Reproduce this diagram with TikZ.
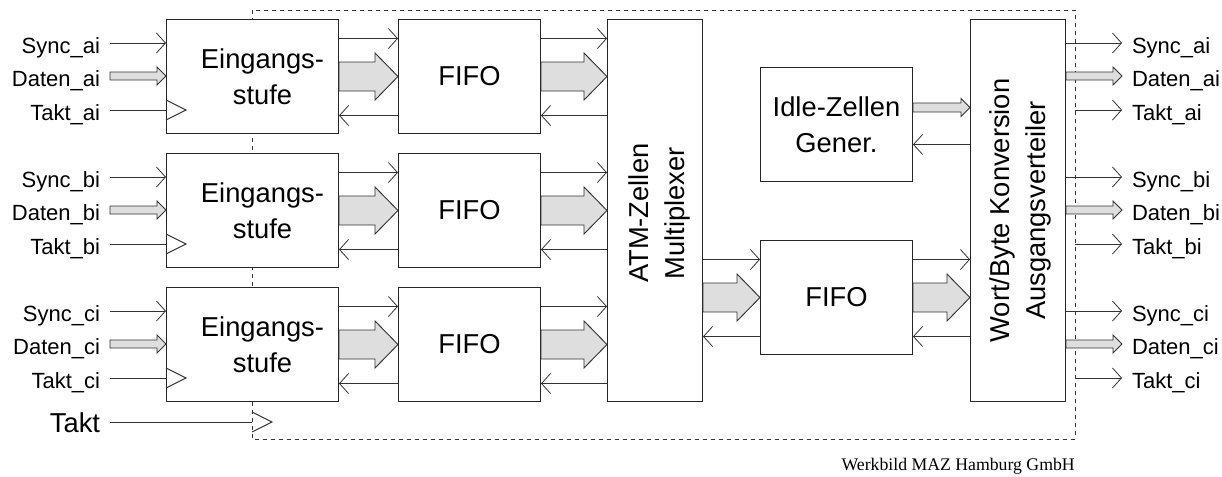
\documentclass[tikz,border=0pt]{standalone}
\usepackage{fontspec}
\setmainfont{Liberation Sans}
\newfontfamily\werkfont{Liberation Serif}
\usetikzlibrary{arrows.meta,calc}

\tikzset{
  txt/.style={font=\fontsize{20.5}{27}\selectfont, align=center},
  blk/.style={txt, draw=black!85, fill=white, line width=0.75pt, inner sep=0pt, anchor=north west},
  eblk/.style={blk, minimum width=129pt, minimum height=85.5pt,
    label={[txt, xshift=7.5pt]center:Eingangs-\\stufe}},
  fblk/.style={blk, minimum width=106.5pt, minimum height=85.5pt},
  tall/.style={blk, minimum width=71.25pt, minimum height=286.5pt},
  lbl/.style={font=\fontsize{16.5}{18}\selectfont, inner sep=0pt, outer xsep=7.5pt,
    text height=15.75pt, text depth=0pt},
  lblin/.style={lbl, anchor=east},
  lblout/.style={lbl, anchor=west},
  line/.style={draw=black!80, line width=0.7pt},
  ctl/.style={line, -{Straight Barb[length=6.75pt,width=15pt,line width=0.6pt]}},
  fat/.style={line, fill=black!13, line join=miter},
  frame/.style={draw=black!80, line width=0.6pt, dash pattern=on 3pt off 3pt}
}

% grey data arrow: tail, tip, shaft half width, head half width, head length
\newcommand{\datarrow}[5]{%
  \draw[fat] ($(#1)+(0,-#3)$) -- ($(#2)+(-#5,-#3)$) -- ($(#2)+(-#5,-#4)$) -- (#2)
    -- ($(#2)+(-#5,#4)$) -- ($(#2)+(-#5,#3)$) -- ($(#1)+(0,#3)$) -- cycle;}
% clock input
\newcommand{\clk}[1]{\draw[line] ($(#1)+(0,-10)$) -- ($(#1)+(20,0)$) -- ($(#1)+(0,10)$);}
% sync, data and return line between two blocks
\newcommand{\bus}[2]{%
  \draw[ctl] ($(#1)+(0,-38)$) -- ($(#2)+(0,-38)$);
  \datarrow{#1}{#2}{14.5}{23.5}{23}
  \draw[ctl] ($(#2)+(0,39)$) -- ($(#1)+(0,39)$);}

\begin{document}
\begin{tikzpicture}[x=0.75pt, y=-0.75pt]
\useasboundingbox (0,0) rectangle (1222,476);

\coordinate (frnw) at (252,10);
\coordinate (frse) at (1075,439);
\draw[frame] (frnw) rectangle (frse);

% blocks
\node[eblk] (ein1) at (166,19) {};
\node[eblk] (ein2) at (166,153) {};
\node[eblk] (ein3) at (166,287) {};
\node[fblk] (fifo1) at (398,19) {FIFO};
\node[fblk] (fifo2) at (398,153) {FIFO};
\node[fblk] (fifo3) at (398,287) {FIFO};
\node[tall, label={[txt, rotate=90, xshift=-2pt, yshift=-3pt]center:ATM-Zellen\\Multiplexer}] (mux) at (607,19) {};
\node[blk, minimum width=114pt, minimum height=85.5pt] (idle) at (760,67) {Idle-Zellen\\Gener.};
\node[blk, minimum width=114pt, minimum height=85.5pt] (fout) at (760,240) {FIFO};
\node[tall, label={[txt, rotate=90, yshift=-2pt]center:Wort/Byte Konversion\\Ausgangsverteiler}] (wort) at (970,19) {};

% inputs
\node[lblin] (sa) at (110,43) {Sync\_ai};
\node[lblin] (da) at (110,76) {Daten\_ai};
\node[lblin] (ta) at (110,110) {Takt\_ai};
\node[lblin] (sb) at (110,177) {Sync\_bi};
\node[lblin] (db) at (110,210) {Daten\_bi};
\node[lblin] (tb) at (110,244) {Takt\_bi};
\node[lblin] (sc) at (110,311) {Sync\_ci};
\node[lblin] (dc) at (110,344) {Daten\_ci};
\node[lblin] (tc) at (110,378) {Takt\_ci};
\node[lblin, font=\fontsize{20.5}{24}\selectfont, text height=15pt] (tk) at (110,422) {Takt};

\draw[ctl] (sa.east) -- (sa.east -| ein1.west);
\datarrow{da.east}{da.east -| ein1.west}{4}{9}{9}
\draw[line] (ta.east) -- (ta.east -| ein1.west); \clk{ta.east -| ein1.west}
\draw[ctl] (sb.east) -- (sb.east -| ein2.west);
\datarrow{db.east}{db.east -| ein2.west}{4}{9}{9}
\draw[line] (tb.east) -- (tb.east -| ein2.west); \clk{tb.east -| ein2.west}
\draw[ctl] (sc.east) -- (sc.east -| ein3.west);
\datarrow{dc.east}{dc.east -| ein3.west}{4}{9}{9}
\draw[line] (tc.east) -- (tc.east -| ein3.west); \clk{tc.east -| ein3.west}
\draw[line] (tk.east) -- (tk.east -| frnw); \clk{tk.east -| frnw}

% block to block
\bus{ein1.east}{fifo1.west}
\bus{ein2.east}{fifo2.west}
\bus{ein3.east}{fifo3.west}
\bus{fifo1.east}{fifo1.east -| mux.west}
\bus{fifo2.east}{fifo2.east -| mux.west}
\bus{fifo3.east}{fifo3.east -| mux.west}
\bus{mux.east |- fout.west}{fout.west}
\bus{fout.east}{fout.east -| wort.west}

\coordinate (ie) at ($(idle.east)+(0,-17)$);
\coordinate (ir) at ($(idle.east)+(0,20)$);
\datarrow{ie}{ie -| wort.west}{4.5}{9}{9}
\draw[ctl] (ir -| wort.west) -- (ir);

% outputs
\node[lblout] (osa) at (1122,43) {Sync\_ai};
\node[lblout] (oda) at (1122,76) {Daten\_ai};
\node[lblout] (ota) at (1122,110) {Takt\_ai};
\node[lblout] (osb) at (1122,177) {Sync\_bi};
\node[lblout] (odb) at (1122,210) {Daten\_bi};
\node[lblout] (otb) at (1122,244) {Takt\_bi};
\node[lblout] (osc) at (1122,311) {Sync\_ci};
\node[lblout] (odc) at (1122,344) {Daten\_ci};
\node[lblout] (otc) at (1122,378) {Takt\_ci};

\draw[ctl] (osa.west -| wort.east) -- (osa.west);
\datarrow{oda.west -| wort.east}{oda.west}{4}{9}{9}
\draw[ctl] (ota.west -| frse) -- (ota.west);
\draw[ctl] (osb.west -| wort.east) -- (osb.west);
\datarrow{odb.west -| wort.east}{odb.west}{4}{9}{9}
\draw[ctl] (otb.west -| frse) -- (otb.west);
\draw[ctl] (osc.west -| wort.east) -- (osc.west);
\datarrow{odc.west -| wort.east}{odc.west}{4}{9}{9}
\draw[ctl] (otc.west -| frse) -- (otc.west);

\node[anchor=base east, inner sep=0pt, font=\werkfont\fontsize{13.3}{15}\selectfont] (werk) at (1075,470) {Werkbild MAZ Hamburg GmbH};
\end{tikzpicture}
\end{document}
